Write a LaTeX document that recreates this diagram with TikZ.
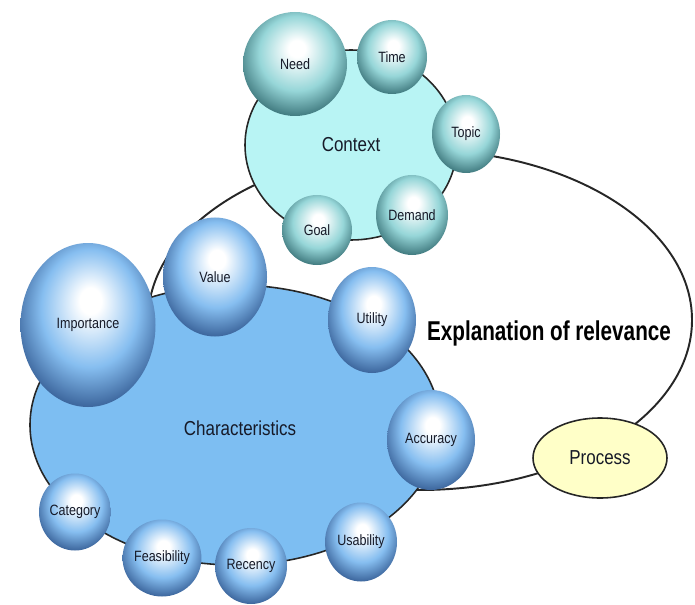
\documentclass[tikz,border=0pt]{standalone}
\usepackage{fontspec}
\setmainfont{Liberation Sans}
\newfontfamily\narrowfont{Liberation Sans}[FakeStretch=0.84]
\newfontfamily\tallfont{Liberation Sans}[FakeStretch=0.76]
\usetikzlibrary{shapes.geometric}

\newlength\px
\setlength\px{0.02cm}

\definecolor{ctxfill}{RGB}{184,244,244}
\definecolor{ctxball}{RGB}{150,214,216}
\definecolor{ctxdark}{RGB}{44,100,106}
\definecolor{chrfill}{RGB}{125,190,242}
\definecolor{chrball}{RGB}{134,190,240}
\definecolor{chrdark}{RGB}{42,80,136}
\definecolor{procfill}{RGB}{255,255,200}
\definecolor{lbltext}{RGB}{22,26,40}

\pgfdeclareradialshading{ctxshade}{\pgfpoint{1bp}{8bp}}{color(0bp)=(white); color(4bp)=(white); color(18bp)=(ctxball); color(31bp)=(ctxdark); color(50bp)=(ctxdark)}
\pgfdeclareradialshading{chrshade}{\pgfpoint{1bp}{8bp}}{color(0bp)=(white); color(4bp)=(white); color(18bp)=(chrball); color(31bp)=(chrdark); color(50bp)=(chrdark)}

\begin{document}
\begin{tikzpicture}[x=0.02cm, y=-0.02cm]
  \useasboundingbox (0,0) rectangle (695,604);

  \tikzset{rim/.style={draw=black!85, line width=0.9pt}}
  \tikzset{body/.style={ellipse, rim, inner sep=0pt, text=lbltext, font=\narrowfont\fontsize{11.5}{13}\selectfont}}
  \tikzset{ballnode/.style={ellipse, inner sep=0pt, text=lbltext, font=\narrowfont\fontsize{8.5}{10}\selectfont}}
  \tikzset{ctxsphere/.style={ballnode, shading=ctxshade}}
  \tikzset{chrsphere/.style={ballnode, shading=chrshade}}

  % outer ring: explanation of relevance
  \node[ellipse, rim, line width=1.1pt, minimum width=544*\px, minimum height=340*\px] (expl) at (420,320) {};
  \node[font=\tallfont\bfseries\fontsize{15.5}{17}\selectfont] (expllbl) at (549,333) {Explanation of relevance};

  % the three parts sitting on the ring
  \node[body, fill=ctxfill, minimum width=212*\px, minimum height=190*\px] (context) at (351,145) {Context};
  \node[body, fill=chrfill, minimum width=410*\px, minimum height=280*\px] (charac) at (235,425) {};
  \node[text=lbltext, font=\narrowfont\fontsize{11.5}{13}\selectfont] (characlbl) at (240,428) {Characteristics};
  \node[body, fill=procfill, minimum width=134*\px, minimum height=80*\px] (process) at (600,458) {Process};

  % context spheres
  \foreach \name/\lbl/\cx/\cy/\w/\h in {need/Need/295/64/104/104, time/Time/392/57/70/74, topic/Topic/466/134/68/78, demand/Demand/412/215/72/80, goal/Goal/317/230/70/70}{
    \node[ctxsphere, minimum width=\w*\px, minimum height=\h*\px] (\name) at (\cx,\cy) {\lbl};
  }

  % characteristics spheres
  \foreach \name/\lbl/\cx/\cy/\w/\h in {importance/Importance/88/325/135/164, value/Value/215/277/104/119, utility/Utility/372/320/88/106, accuracy/Accuracy/431/440/88/100, category/Category/75/512/70/77, feasibility/Feasibility/162/558/70/77, recency/Recency/251/566/72/76, usability/Usability/361/542/72/79}{
    \node[chrsphere, minimum width=\w*\px, minimum height=\h*\px] (\name) at (\cx,\cy) {\lbl};
  }
\end{tikzpicture}
\end{document}
